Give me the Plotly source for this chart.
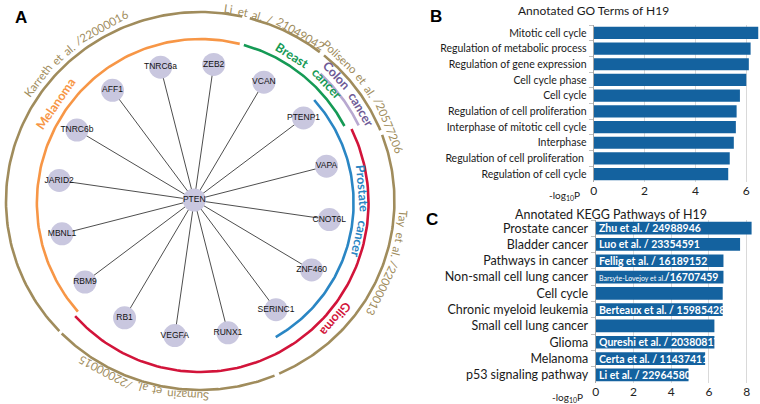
import numpy as np
import plotly.graph_objects as go

# ---------------- data ----------------
hub = "PTEN"
targets = ["ZEB2", "VCAN", "PTENP1", "VAPA", "CNOT6L", "ZNF460", "SERINC1", "RUNX1",
           "VEGFA", "RB1", "RBM9", "MBNL1", "JARID2", "TNRC6b", "AFF1", "TNRC6a"]
cancer_types = ["Melanoma", "Breast cancer", "Colon cancer", "Prostate cancer", "Glioma"]
references = ["Karreth et al. /22000016", "Li et al. / 21049042", "Poliseno et al. /20577206",
              "Tay et al. /22000013", "Sumazin et al. /22000015"]

go_terms = ["Mitotic cell cycle", "Regulation of metabolic process", "Regulation of gene expression",
            "Cell cycle phase", "Cell cycle", "Regulation of cell proliferation",
            "Interphase of mitotic cell cycle", "Interphase", "Regulation of cell proliferation ",
            "Regulation of cell cycle"]
go_values = [6.47, 6.17, 6.10, 6.00, 5.75, 5.62, 5.59, 5.51, 5.35, 5.29]
go_ticks = [0, 2, 4, 6]

kegg_terms = ["Prostate cancer", "Bladder cancer", "Pathways in cancer", "Non-small cell lung cancer",
              "Cell cycle", "Chronic myeloid leukemia", "Small cell lung cancer", "Glioma",
              "Melanoma", "p53 signaling pathway"]
kegg_values = [8.26, 7.65, 6.77, 6.77, 6.73, 6.73, 6.29, 6.29, 5.80, 4.92]
kegg_refs = ["Zhu et al. / 24988946", "Luo et al. / 23354591", "Fellig et al. / 16189152",
             "Barsyte-Lovejoy et al./16707459", "", "Berteaux et al. / 15985428", "",
             "Qureshi et al. / 20380817", "Certa et al. / 11437411", "Li et al. / 22964580"]
kegg_ticks = [0, 2, 4, 6, 8]

# ---------------- layout constants (panel A, pixel space) ----------------
W, H = 760, 404
NCX, NCY, NR = 192, 200, 137
START, STEP = 81.8, -360.0 / len(targets)
ACX, ACY = 198, 203          # centre of the coloured arcs
TCX, TCY, TRX, TRY = 198, 201, 195, 189   # ellipse of the reference arcs
TAN = "#a08c5c"

cancer_style = {
    "Melanoma":        dict(r=164, a=(76, 221.5), color="#f79646", tcol="#f79646", c=145.5, tr=176),
    "Breast cancer":   dict(r=164, a=(74.5, 28), color="#159a55", tcol="#159a55", c=50.5, tr=174),
    "Colon cancer":    dict(r=177, a=(47, 26), color="#b8a8d0", tcol="#6e5a96", c=36, tr=187),
    "Prostate cancer": dict(r=154, a=(42, -60.5), color="#2a86c4", tcol="#2a86c4", c=-3, tr=163),
    "Glioma":          dict(r=169, a=(26, -138), color="#d2143a", tcol="#d2143a", c=-40.5, tr=179),
}
ref_style = {
    "Karreth et al. /22000016": dict(a=(77.5, 223.5), c=129.5, off=10),
    "Li et al. / 21049042": dict(a=(75.2, 52), c=67.5, off=5),
    "Poliseno et al. /20577206": dict(a=(50.4, 22), c=33.5, off=10),
    "Tay et al. /22000013": dict(a=(20.5, -66), c=-18.5, off=9),
    "Sumazin et al. /22000015": dict(a=(224.5, 292.5), c=253, off=6),
}

fig = go.Figure()
annotations = []

CHAR_W = {"i": .23, "l": .23, "j": .23, ".": .22, ",": .22, " ": .42, "f": .31, "t": .34, "r": .36,
          "/": .37, "-": .32, "m": .82, "w": .75, "M": .84, "L": .5, "P": .6, "S": .52, "T": .57, "I": .27}


def text_w(s, size, bold=False):
    tot = 0.0
    for ch in s:
        if ch in CHAR_W:
            w = CHAR_W[ch]
        elif ch.isdigit():
            w = .58
        elif ch.isupper():
            w = .64
        else:
            w = .53
        tot += w
    return tot * size * (1.06 if bold else 1.0)


def ell(cx, cy, rx, ry, ang):
    t = np.radians(ang)
    return cx + rx * np.cos(t), cy - ry * np.sin(t)


def add_line(xs, ys, color, width=2.6):
    fig.add_trace(go.Scatter(x=xs, y=ys, mode="lines", line=dict(color=color, width=width),
                             hoverinfo="skip", showlegend=False, xaxis="x", yaxis="y"))


def arc_text(text, center, cx, cy, rx, ry, color, size, bold=False):
    words = text.split(" ")
    sp = text_w(" ", size, bold)
    total = text_w(text, size, bold)
    r = (rx + ry) / 2
    s = -total / 2
    for w in words:
        ww = text_w(w, size, bold)
        if w:
            mid = s + ww / 2
            ang = center - np.degrees(mid / r)
            x, y = ell(cx, cy, rx, ry, ang)
            ta = 90 - ang
            while ta <= -180:
                ta += 360
            while ta > 180:
                ta -= 360
            annotations.append(dict(x=x, y=y, xref="x", yref="y", text=w, showarrow=False,
                                    textangle=ta, xanchor="center", yanchor="middle",
                                    font=dict(family="Lato", size=size, color=color,
                                              weight="bold" if bold else "normal")))
        s += ww + sp


# arcs
for name in cancer_types:
    st = cancer_style[name]
    angs = np.linspace(st["a"][0], st["a"][1], 120)
    xs, ys = ell(ACX, ACY, st["r"], st["r"], angs)
    add_line(xs, ys, st["color"])
for name in references:
    st = ref_style[name]
    angs = np.linspace(st["a"][0], st["a"][1], 120)
    xs, ys = ell(TCX, TCY, TRX, TRY, angs)
    add_line(xs, ys, TAN)

# network
angles = [START + i * STEP for i in range(len(targets))]
tx, ty = ell(NCX, NCY, NR, NR, np.array(angles))
ex, ey = [], []
for x, y in zip(tx, ty):
    ex += [NCX, x, None]
    ey += [NCY, y, None]
fig.add_trace(go.Scatter(x=ex, y=ey, mode="lines", line=dict(color="#3a3a3a", width=0.9),
                         hoverinfo="skip", showlegend=False, xaxis="x", yaxis="y"))
fig.add_trace(go.Scatter(x=list(tx) + [NCX], y=list(ty) + [NCY], mode="markers+text",
                         text=targets + [hub], textposition="middle center",
                         marker=dict(size=23, color="#c9c7df", line=dict(width=0)),
                         textfont=dict(family="Liberation Sans", size=8.5, color="#111111"),
                         hoverinfo="text", showlegend=False, xaxis="x", yaxis="y"))

# arc labels
for name in cancer_types:
    st = cancer_style[name]
    arc_text(name, st["c"], ACX, ACY, st["tr"], st["tr"], st["tcol"], 12.5, True)
for name in references:
    st = ref_style[name]
    arc_text(name, st["c"], TCX, TCY, TRX + st["off"], TRY + st["off"], TAN, 11.5)

# ---------------- bar charts ----------------
BAR = "#14629f"
fig.add_trace(go.Bar(y=go_terms, x=go_values, orientation="h", marker=dict(color=BAR, line=dict(width=0)),
                     xaxis="x2", yaxis="y2", showlegend=False))
fig.add_trace(go.Bar(y=kegg_terms, x=kegg_values, orientation="h", marker=dict(color=BAR, line=dict(width=0)),
                     xaxis="x3", yaxis="y3", showlegend=False))

for term, ref in zip(kegg_terms, kegg_refs):
    if not ref:
        continue
    if len(ref) > 28:
        author, num = ref.split("/", 1)
        txt = "<span style='font-size:7px;font-weight:normal'>" + author + "</span>/" + num
    else:
        txt = ref
    annotations.append(dict(x=0.08, y=term, xref="x3", yref="y3", text=txt, showarrow=False,
                            xanchor="left", yanchor="middle",
                            font=dict(family="Lato", size=10.5, color="white", weight="bold")))

# titles, panel letters, axis titles
annotations += [
    dict(x=18, y=17, xref="x", yref="y", text="<b>A</b>", showarrow=False,
         font=dict(family="Liberation Sans", size=17, color="black")),
    dict(x=435, y=16, xref="x", yref="y", text="<b>B</b>", showarrow=False,
         font=dict(family="Liberation Sans", size=17, color="black")),
    dict(x=431, y=219, xref="x", yref="y", text="<b>C</b>", showarrow=False,
         font=dict(family="Liberation Sans", size=17, color="black")),
    dict(x=593, y=10, xref="x", yref="y", text="Annotated GO Terms of H19", showarrow=False,
         font=dict(family="Lato", size=12, color="#1a1a1a")),
    dict(x=610, y=214, xref="x", yref="y", text="Annotated KEGG Pathways of H19", showarrow=False,
         font=dict(family="Lato", size=12.5, color="#1a1a1a")),
    dict(x=564, y=195, xref="x", yref="y", text="-log<sub>10</sub>P", showarrow=False,
         font=dict(family="Lato", size=10, color="#1a1a1a")),
    dict(x=567, y=397, xref="x", yref="y", text="-log<sub>10</sub>P", showarrow=False,
         font=dict(family="Lato", size=10, color="#1a1a1a")),
]


def px_dom_x(a, b):
    return [a / W, b / W]


def px_dom_y(top, bottom):
    return [1 - bottom / H, 1 - top / H]


ycommon = dict(type="category", autorange="reversed", showline=True, linecolor="#a6a6a6", linewidth=1,
               ticks="outside", tickson="boundaries", ticklen=4, tickcolor="#bfbfbf",
               showgrid=False, zeroline=False, ticklabelstandoff=4)
xcommon = dict(showline=False, showgrid=True, gridcolor="#d9d9d9", gridwidth=1, zeroline=False,
               ticks="", tickfont=dict(family="Lato", size=12, color="#222222"))

fig.update_layout(
    width=W, height=H, margin=dict(l=0, r=0, t=0, b=0),
    paper_bgcolor="white", plot_bgcolor="rgba(0,0,0,0)",
    bargap=0.22, showlegend=False,
    xaxis=dict(domain=[0, 1], range=[0, W], visible=False, fixedrange=True),
    yaxis=dict(domain=[0, 1], range=[H, 0], visible=False, fixedrange=True),
    xaxis2=dict(domain=px_dom_x(593, 759), range=[0, 6.5], anchor="y2", tickvals=go_ticks, **xcommon),
    yaxis2=dict(domain=px_dom_y(25, 182), anchor="x2",
                tickfont=dict(family="Lato", size=10.5, color="#1a1a1a"), **ycommon),
    xaxis3=dict(domain=px_dom_x(595, 758), range=[0, 8.6], anchor="y3", tickvals=kegg_ticks, **xcommon),
    yaxis3=dict(domain=px_dom_y(220, 383), anchor="x3",
                tickfont=dict(family="Lato", size=12.5, color="#1a1a1a"), **ycommon),
    annotations=annotations,
)

fig.write_html("out.html", config={"displayModeBar": False},
               post_script="document.body.style.margin='0';")
